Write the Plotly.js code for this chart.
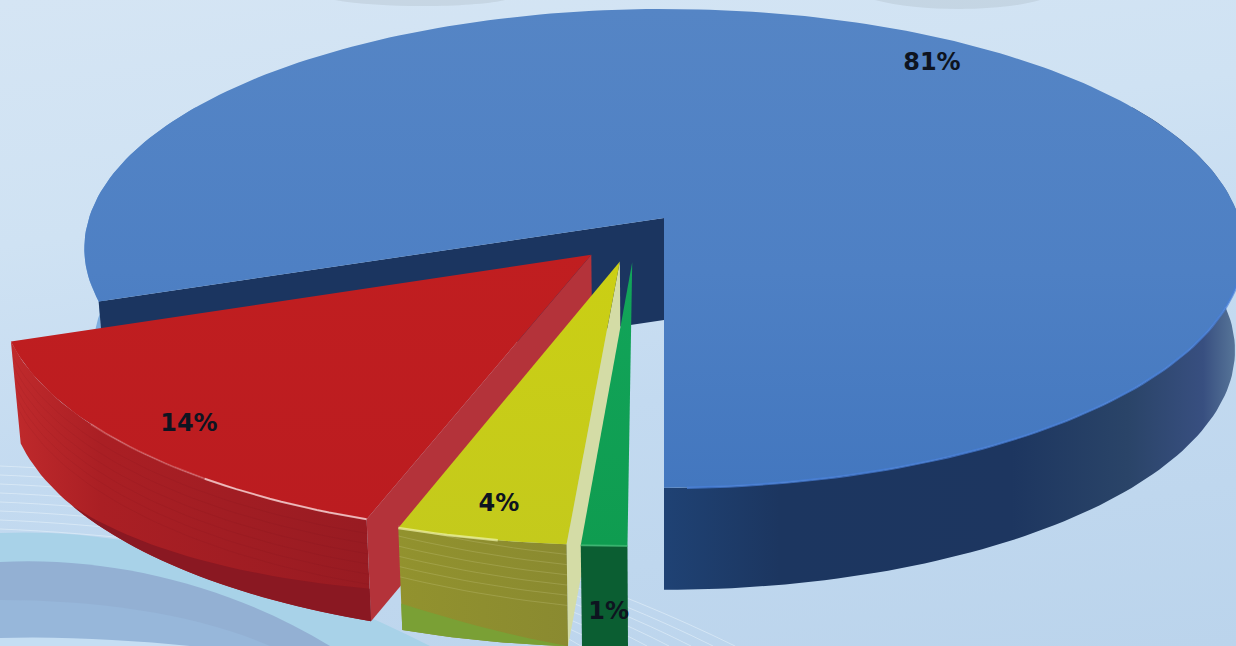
<!DOCTYPE html>
<html><head><meta charset="utf-8">
<script src="https://cdn.plot.ly/plotly-3.0.1.min.js"></script>
<style>
html,body{margin:0;padding:0;width:1236px;height:646px;overflow:hidden;
background:linear-gradient(172deg,#d5e5f4 0%,#cfe2f3 30%,#c3daf0 60%,#bbd4ec 100%);}
#plot{width:1236px;height:646px;}
</style></head><body><div id="plot"></div>
<script>
// ---- data (shown rounded: 81 / 14 / 4 / 1) ----
const sliceNames = ['Blue', 'Red', 'Yellow', 'Green'];
const sliceValues = [80.5, 14.3, 4.1, 1.1];

// ---- view model of the tilted disc (perspective projection) ----
const VIEW = {cx:664, cy:218, R:575, Ry:235.6, k:0.127, depth:102, lowScale:0.985, notch:180, labelDy:2};
const PULL = {Blue:[0,0], Red:[-0.124,0.153], Yellow:[-0.075,0.180], Green:[-0.054,0.183]};
const LABEL_FRACTION = 0.885;
const LABEL_DROP = {Blue:0, Red:0, Yellow:0, Green:1};
const COLORS = {
  Blue:  {top:[[0,'#4377bf'],[0.45,'#4e80c4'],[1,'#5585c5']], wall:'#1b3560', rim:[[0,'#1f4274'],[0.2,'#1c3660'],[0.6,'#1d3660'],[0.8,'#2a4468'],[0.93,'#384f80'],[1,'#5f7f9f']]},
  Red:   {top:[[0,'#bb1c20'],[1,'#c01e20']], wall:'#b4333a', rim:[[0,'#c02a2c'],[0.25,'#aa1f24'],[1,'#981b22']], band:'#8a1822'},
  Yellow:{top:[[0,'#c4ca1c'],[1,'#cbcf14']], wall:'#d4dca6', rim:[[0,'#92922e'],[1,'#8a8a30']], band:'#7aa035'},
  Green: {top:[[0,'#0f9c50'],[1,'#12a55a']], wall:'#0f9c50', rim:[[0,'#0b5e32'],[1,'#0b5e32']]}
};

const rad = d => d*Math.PI/180;
function pt(theta, f, name, z){
  const [du,dv] = PULL[name];
  const u = f*Math.sin(rad(theta))+du, v = -f*Math.cos(rad(theta))+dv;
  const s = 1/(1-VIEW.k*v);
  let X = VIEW.cx+VIEW.R*u*s, Y = VIEW.cy+VIEW.Ry*v*s;
  if(z){ X = VIEW.cx+(X-VIEW.cx)*(1-(1-VIEW.lowScale)*z); Y += VIEW.depth*z; }
  return [X,Y];
}
function arc(a,b,name,z,zf){
  const n = Math.max(2,Math.ceil(Math.abs(b-a)/1.2)), out=[];
  for(let i=0;i<=n;i++){
    const t=i/n; const zz = zf? zf(t): z;
    out.push(pt(a+(b-a)*t,1,name,zz));
  }
  return out;
}
function poly(points, style){
  const xs=points.map(p=>p[0]), ys=points.map(p=>p[1]);
  xs.push(xs[0]); ys.push(ys[0]);
  const t={x:xs,y:ys,type:'scatter',mode:'lines',fill:'toself',line:{width:0},hoverinfo:'skip',showlegend:false};
  if(style.grad) t.fillgradient={type:style.dir,colorscale:style.grad};
  else t.fillcolor=style.color;
  return t;
}
function stroke(points,color,width){
  return {x:points.map(p=>p[0]),y:points.map(p=>p[1]),type:'scatter',mode:'lines',
    line:{color:color,width:width},hoverinfo:'skip',showlegend:false};
}

// slice angles: clockwise from the notch, smallest slice first
const ranges={}; let cursor=VIEW.notch;
const total=sliceValues.reduce((a,b)=>a+b,0);
for(let i=sliceNames.length-1;i>=0;i--){
  const sweep=sliceValues[i]/total*360;
  ranges[sliceNames[i]]=[cursor,cursor+sweep]; cursor+=sweep;
}

const traces=[];
// ---- Blue ----
(function(){
  const [a,b]=ranges.Blue, n='Blue';
  const right=arc(60,180,n,0).concat(arc(180,60,n,1));
  traces.push(poly(right,{grad:COLORS.Blue.rim,dir:'horizontal'}));
  const left=arc(a,300,n,0).concat(arc(300,a,n,1));
  traces.push(poly(left,{grad:[[0,'#8ab8e4'],[1,'#5d90d0']],dir:'vertical'}));
  const c=pt(0,0,n,0), c1=pt(0,0,n,1), o=pt(a,1,n,0), o1=pt(a,1,n,1);
  traces.push(poly([c,o,o1,c1],{color:COLORS.Blue.wall}));
  traces.push(poly([c].concat(arc(a,b,n,0)),{grad:COLORS.Blue.top,dir:'vertical'}));
  traces.push(stroke(arc(105,178,n,0),'rgba(72,128,218,0.7)',2.5));
})();

function slice(n,opts){
  const [a,b]=ranges[n], col=COLORS[n];
  const c=pt(0,0,n,0), c1=pt(0,0,n,1);
  if(opts.sideWall){
    const o=pt(a,1,n,0), o1=pt(a,1,n,1);
    traces.push(poly([c,c1,o1,o],{color:col.wall}));
  }
  traces.push(poly(arc(a,b,n,0).concat(arc(b,a,n,1)),{grad:col.rim,dir:'horizontal'}));
  if(opts.band){
    const [f0,f1,t0,t1]=opts.band;
    const A=a+(b-a)*t0, B=a+(b-a)*t1;
    const upper=arc(A,B,n,0,t=>f0+(f1-f0)*t);
    const lower=arc(B,A,n,1);
    traces.push(poly(upper.concat(lower),{color:col.band}));
  }
  (opts.streaks||[]).forEach(f=>{
    traces.push(stroke(arc(a,b,n,0,t=>f+opts.streakTilt*t),opts.streakColor,1));
  });
  traces.push(poly([c].concat(arc(a,b,n,0)),{grad:col.top,dir:'vertical'}));
}
slice('Red',{sideWall:true,band:[0.68,1,0,0.72],
  streaks:[0.14,0.24,0.34,0.44,0.54,0.64],streakTilt:0,streakColor:'rgba(70,0,10,0.06)'});
slice('Yellow',{sideWall:true,band:[1,0.74,0,1],
  streaks:[0.10,0.20,0.30,0.40,0.50,0.60],streakTilt:-0.12,streakColor:'rgba(225,225,170,0.2)'});
slice('Green',{});

// highlights on the outer top edges
(function(){
  const [ra,rb]=ranges.Red, t=(rb-ra);
  traces.push(stroke(arc(ra+0.0*t,ra+0.32*t,'Red',0),'rgba(255,225,225,0.75)',2));
  traces.push(stroke(arc(ra+0.32*t,ra+0.62*t,'Red',0),'rgba(255,190,190,0.28)',2));
  const [ya,yb]=ranges.Yellow, y=(yb-ya);
  traces.push(stroke(arc(ya+0.4*y,ya+1.0*y,'Yellow',0),'rgba(240,245,170,0.7)',2.5));
  const [ga,gb]=ranges.Green;
  traces.push(stroke(arc(ga,gb,'Green',0),'rgba(70,190,120,0.7)',2));
})();

// labels
const labelPts=sliceNames.map(n=>{
  const [a,b]=ranges[n];
  return pt((a+b)/2,LABEL_FRACTION,n,LABEL_DROP[n]);
});
traces.push({x:labelPts.map(p=>p[0]),y:labelPts.map(p=>p[1]+VIEW.labelDy),type:'scatter',mode:'text',
  text:sliceValues.map(v=>Math.round(v)+'%'),textposition:'middle center',
  textfont:{family:'"DejaVu Sans", sans-serif',size:24,weight:700,color:'#0e1420'},
  hoverinfo:'skip',showlegend:false});

// ---- decorative backdrop ----
const shapes=[];
function deco(path,fill,lineColor,w){
  shapes.push({type:'path',xref:'x',yref:'y',layer:'below',path:path,fillcolor:fill||'rgba(0,0,0,0)',
    line:{color:lineColor||'rgba(0,0,0,0)',width:w||0}});
}
deco('M0,533 C120,528 260,560 430,646 L0,646 Z','#a8d2e8');
deco('M0,562 C110,556 230,585 330,646 L0,646 Z','#93b0d3');
deco('M0,600 C100,600 200,615 270,646 L0,646 Z','#97b7da');
deco('M0,638 C60,636 130,640 190,646 L0,646 Z','#c5def3');
for(let i=0;i<8;i++){
  const y0=466+i*9;
  deco(`M0,${y0} C200,${y0+8} 480,${y0+55} ${735-i*22},646`,null,'rgba(235,245,252,0.5)',1);
}
deco('M335,0 C380,8 470,8 505,0 Z','rgba(160,170,180,0.25)');
deco('M875,0 C920,12 1000,12 1040,0 Z','rgba(160,170,180,0.25)');

Plotly.newPlot('plot',traces,{
  width:1236,height:646,margin:{l:0,r:0,t:0,b:0},
  paper_bgcolor:'rgba(0,0,0,0)',plot_bgcolor:'rgba(0,0,0,0)',showlegend:false,
  xaxis:{range:[0,1236],visible:false,fixedrange:true},
  yaxis:{range:[646,0],visible:false,fixedrange:true},
  shapes:shapes
},{displayModeBar:false,staticPlot:true});
</script></body></html>
